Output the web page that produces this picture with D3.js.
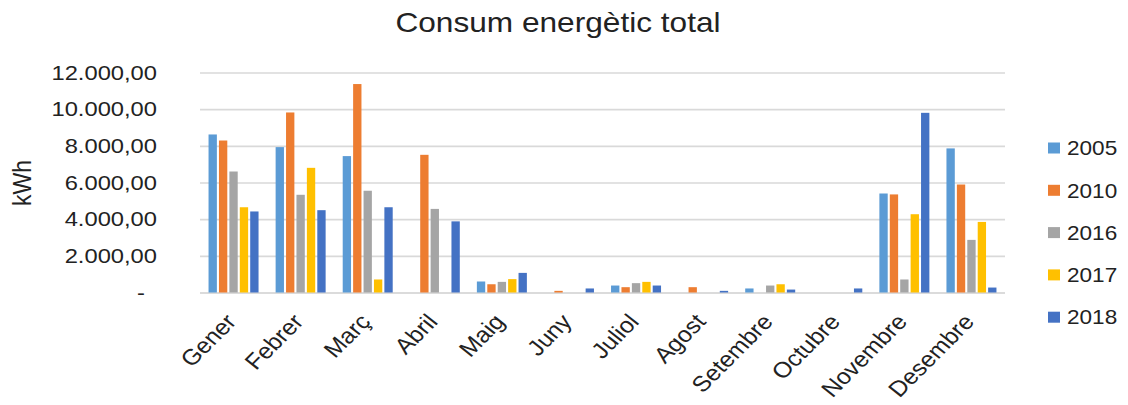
<!DOCTYPE html>
<html>
<head>
<meta charset="utf-8">
<script src="https://cdn.jsdelivr.net/npm/d3@7"></script>
<style>
  html, body { margin: 0; padding: 0; background: #fff; }
  svg { display: block; font-family: "Liberation Sans", Arial, sans-serif; }
</style>
</head>
<body>
<svg id="chart"></svg>
<script>
// Monthly energy use (kWh) per year
const months = ["Gener", "Febrer", "Març", "Abril", "Maig", "Juny", "Juliol", "Agost", "Setembre", "Octubre", "Novembre", "Desembre"];
const years = ["2005", "2010", "2016", "2017", "2018"];
const colors = ["#5B9BD5", "#ED7D31", "#A5A5A5", "#FFC000", "#4472C4"];

const values2005 = [8620, 7930, 7440, 0, 600, 0, 380, 0, 220, 0, 5400, 7860];
const values2010 = [8290, 9820, 11370, 7510, 450, 90, 290, 290, 0, 0, 5350, 5890];
const values2016 = [6600, 5330, 5550, 4560, 580, 0, 510, 0, 380, 0, 710, 2870];
const values2017 = [4650, 6800, 710, 0, 730, 0, 580, 0, 450, 0, 4270, 3850];
const values2018 = [4420, 4490, 4650, 3880, 1070, 220, 380, 90, 160, 220, 9800, 270];

const yTicks = [0, 2000, 4000, 6000, 8000, 10000, 12000];

const seriesValues = [values2005, values2010, values2016, values2017, values2018];
const rows = months.map((m, i) => ({
  month: m,
  bars: years.map((y, j) => ({ year: y, value: seriesValues[j][i], color: colors[j] }))
}));

// The drawing is laid out on a slightly narrower canvas and stretched to fill the page width
const W = 1128, H = 405, K = 1.13;
const IW = W / K;

const svg = d3.select("#chart")
  .attr("width", W).attr("height", H)
  .attr("viewBox", `0 0 ${IW} ${H}`)
  .attr("preserveAspectRatio", "none");

const plot = { left: 200 / K, right: 1005 / K, top: 72.5, bottom: 292.5 };

const x = d3.scaleBand().domain(months).range([plot.left, plot.right]).paddingInner(0).paddingOuter(0);
const xInner = d3.scaleBand().domain(years).range([-25 / K, 25 / K]).paddingInner(0.2);
const y = d3.scaleLinear().domain([0, 12000]).range([plot.bottom, plot.top]);

const locale = d3.formatLocale({ decimal: ",", thousands: ".", grouping: [3], currency: ["", "€"] });
const fmt = locale.format(",.2f");

// Horizontal gridlines
const grid = svg.append("g")
  .attr("transform", `translate(${plot.left},0)`)
  .call(d3.axisLeft(y).tickValues(yTicks).tickSize(-(plot.right - plot.left)).tickFormat(""));
grid.select(".domain").remove();
grid.selectAll(".tick line")
  .attr("stroke", d => d === 0 ? "#cfcfcf" : "#d9d9d9")
  .attr("stroke-width", 1.6);

// Y tick labels
const yAxis = svg.append("g")
  .attr("transform", `translate(${157 / K},0)`)
  .call(d3.axisLeft(y).tickValues(yTicks).tickSize(0).tickPadding(0)
    .tickFormat(d => d === 0 ? "-" : fmt(d)));
yAxis.select(".domain").remove();
yAxis.selectAll("text")
  .attr("font-size", 21)
  .attr("fill", "#222")
  .attr("font-family", "Liberation Sans, Arial, sans-serif")
  .attr("dx", d => d === 0 ? -12 / K : 0);

// Bars
const groups = svg.append("g").selectAll("g")
  .data(rows).join("g")
  .attr("transform", d => `translate(${x(d.month) + x.bandwidth() / 2},0)`);

groups.selectAll("rect")
  .data(d => d.bars).join("rect")
  .attr("x", d => xInner(d.year))
  .attr("width", xInner.bandwidth())
  .attr("y", d => y(d.value))
  .attr("height", d => y(0) - y(d.value))
  .attr("fill", d => d.color);

// Month labels, slanted so they read at 45° on the stretched page
const slant = Math.atan(K) * 180 / Math.PI;
const xAxis = svg.append("g")
  .attr("transform", `translate(0,${plot.bottom})`)
  .call(d3.axisBottom(x).tickSize(0).tickPadding(0));
xAxis.select(".domain").remove();
xAxis.selectAll("text")
  .attr("font-size", 22)
  .attr("fill", "#222")
  .attr("font-family", "Liberation Sans, Arial, sans-serif")
  .attr("text-anchor", "end")
  .attr("dy", null)
  .attr("transform", `translate(${4 / K},30) rotate(${-slant})`);

// Title
svg.append("text")
  .attr("x", 558 / K).attr("y", 32)
  .attr("text-anchor", "middle")
  .attr("font-size", 28)
  .attr("fill", "#222")
  .text("Consum energètic total");

// Y axis title
svg.append("text")
  .attr("transform", `translate(${31 / K},183) rotate(-90)`)
  .attr("text-anchor", "middle")
  .attr("font-size", 23)
  .attr("fill", "#222")
  .text("kWh");

// Legend
const legend = svg.append("g").selectAll("g")
  .data(years).join("g")
  .attr("transform", (d, i) => `translate(${1048 / K},${148 + i * 42.3})`);
legend.append("rect")
  .attr("x", 0).attr("y", -5.5)
  .attr("width", 12 / K).attr("height", 11)
  .attr("fill", (d, i) => colors[i]);
legend.append("text")
  .attr("x", 19 / K).attr("y", 0).attr("dy", "0.36em")
  .attr("font-size", 20)
  .attr("fill", "#222")
  .text(d => d);
</script>
</body>
</html>
